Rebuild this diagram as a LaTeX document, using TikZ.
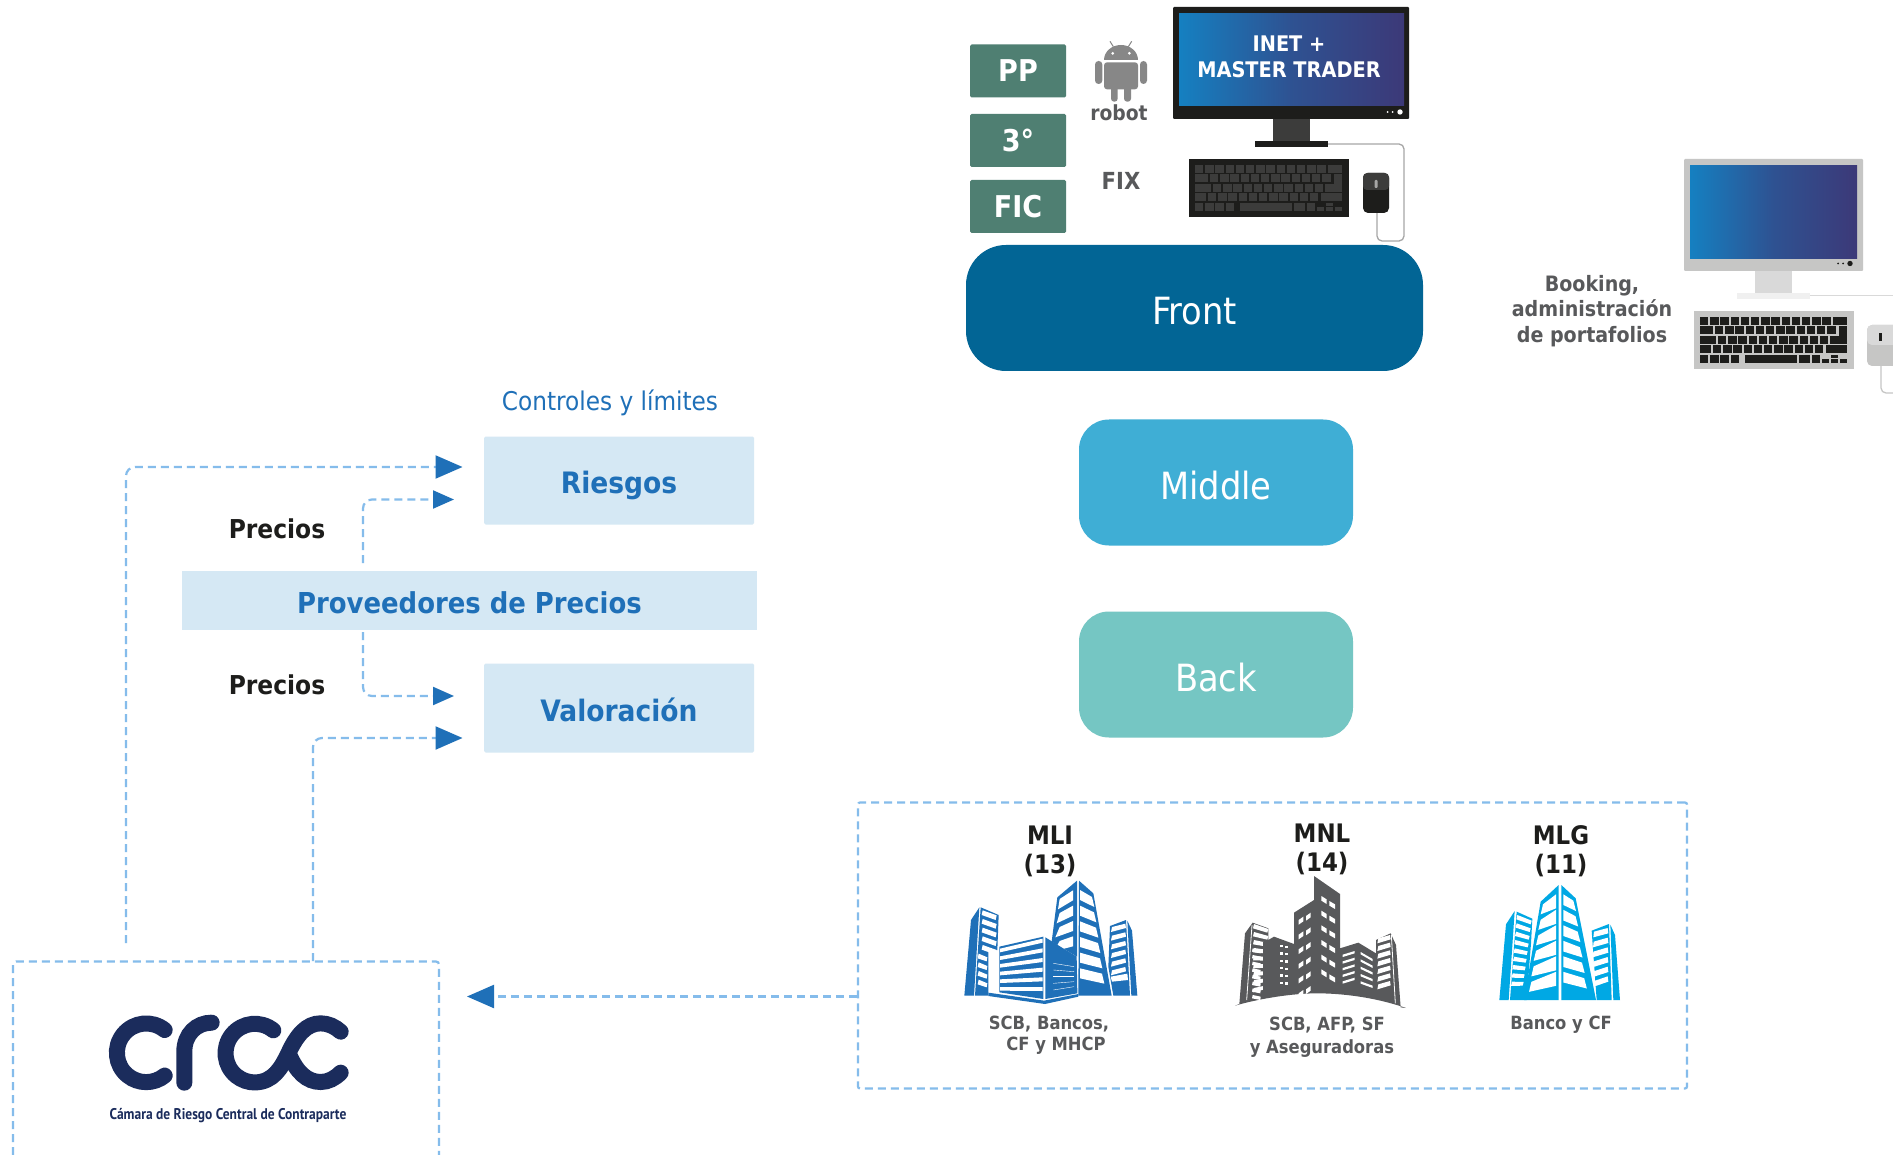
\documentclass[tikz,border=0pt]{standalone}
\usepackage{fontspec}
\setmainfont{DejaVu Sans Condensed}
\newfontfamily\logofont[FakeStretch=0.87]{PT Sans}
\usetikzlibrary{arrows.meta,calc}
\definecolor{teal1}{HTML}{4F7F72}
\definecolor{frontc}{HTML}{026595}
\definecolor{midc}{HTML}{3FAED5}
\definecolor{backc}{HTML}{75C6C3}
\definecolor{pale}{HTML}{D5E8F4}
\definecolor{blueT}{HTML}{1F70B8}
\definecolor{dashc}{HTML}{85BCEB}
\definecolor{gtext}{HTML}{58595B}
\definecolor{btext}{HTML}{1D1D1B}
\definecolor{navy}{HTML}{1B2C5C}
\definecolor{keyd}{HTML}{3C3C3B}
\definecolor{lgray}{HTML}{C6C6C5}
\definecolor{cyanb}{HTML}{00A8E4}
\definecolor{scrL}{HTML}{1580C1}
\definecolor{scrR}{HTML}{3C3978}
\definecolor{droid}{HTML}{878787}
\tikzset{
  txt/.style={inner sep=0pt,align=center},
  tag/.style={fill=teal1,text=white,minimum width=96pt,minimum height=53pt,rounded corners=1.5pt,inner sep=0pt,font=\fontsize{30}{32}\selectfont\bfseries},
  tier/.style={text=white,inner sep=0pt,font=\fontsize{37.5}{40}\selectfont,text height=34pt,text depth=0pt},
  palebox/.style={fill=pale,text=blueT,inner sep=0pt,font=\fontsize{29.5}{34}\selectfont\bfseries,text height=26pt,text depth=0pt},
  dashl/.style={draw=dashc,line width=2.2pt,dash pattern=on 8pt off 5pt},
  conn/.style={dashl,rounded corners=9pt},
  bigtip/.style={-{Triangle[length=27pt,width=23pt,color=blueT]}},
  smalltip/.style={-{Triangle[length=21pt,width=18pt,color=blueT]}},
  gray label/.style={txt,text=gtext,font=\fontsize{18.2}{23}\selectfont\bfseries},
  mkt label/.style={txt,text=btext,font=\fontsize{25.5}{29}\selectfont\bfseries},
  price label/.style={txt,text=btext,font=\fontsize{26}{30}\selectfont\bfseries},
  logostroke/.style={draw=navy,line width=16pt,line cap=round}
}
% keyboard: top-left x,y ; body colour ; key colour
\newcommand{\kbdraw}[4]{%
  \begin{scope}[shift={(#1,#2)}]
    \fill[#3] (0,0) rectangle (160,58);
    \foreach \i in {0,...,12} \fill[#4] ({6+10.2*\i},6) rectangle ++(8.4,8);
    \fill[#4] (138.6,6) rectangle (153,14);
    \fill[#4] (6,15.5) rectangle (19,23.5);
    \foreach \i in {0,...,11} \fill[#4] ({21+10.2*\i},15.5) rectangle ++(8.4,8);
    \fill[#4] (6,25) rectangle (22,33);
    \foreach \i in {0,...,11} \fill[#4] ({24+10.2*\i},25) rectangle ++(8.4,8);
    \fill[#4] (145,15.5) rectangle (153,33);
    \fill[#4] (6,34.5) rectangle (17,42.5);
    \foreach \i in {0,...,10} \fill[#4] ({19+10.2*\i},34.5) rectangle ++(8.4,8);
    \fill[#4] (132,34.5) rectangle (153,42.5);
    \foreach \i in {0,...,3} \fill[#4] ({6+10.2*\i},44) rectangle ++(8.4,8.5);
    \fill[#4] (51,44) rectangle (103,52.5);
    \fill[#4] (105,44) rectangle (116,52.5);
    \fill[#4] (118,44) rectangle (126,52.5);
    \fill[#4] (128,48) rectangle (135,52.5);
    \fill[#4] (137,44) rectangle (144,47);
    \fill[#4] (137,48.5) rectangle (144,52.5);
    \fill[#4] (146,48) rectangle (153,52.5);
  \end{scope}}
\begin{document}
\begin{tikzpicture}[x=1pt,y=-1pt]
\clip (0,0) rectangle (1893,1155);
\fill[white] (0,0) rectangle (1893,1155);

% --- workstation 1
\fill[btext,rounded corners=1pt] (1173,7) rectangle (1409,119);
\shade[left color=scrL,right color=scrR,middle color=scrL!35!scrR] (1179,14) rectangle (1404,106);
\fill[white] (1400,112) circle (2.7);
\fill[white] (1392.5,112) circle (1);
\fill[white] (1387.5,112) circle (1);
\fill[keyd] (1273,119) rectangle (1310,141);
\fill[btext] (1255,141) rectangle (1328,147);
\draw[gray!70,line width=1.3pt,rounded corners=5pt] (1328,144) -- (1404,144) -- (1404,241) -- (1377,241) -- (1377,213);
\kbdraw{1189}{159}{btext}{keyd}
\fill[btext,rounded corners=5pt] (1363,173) rectangle (1389,213);
\fill[keyd,rounded corners=4pt] (1363,173) rectangle (1389,190);
\fill[gray!70,rounded corners=1pt] (1374.5,180) rectangle (1377.5,188);
\node[txt,text=white,font=\fontsize{21.5}{25.5}\selectfont\bfseries] (inet) at (1289,57) {INET +\\MASTER TRADER};

% --- android
\begin{scope}[shift={(950,0)},scale=1/3]
  \fill[droid] (462,180) arc[start angle=180,end angle=360,x radius=51,y radius=45] -- cycle;
  \fill[droid,rounded corners=3pt] (462,187) rectangle (564,268);
  \fill[droid,rounded corners=3.5pt] (435,183) rectangle (457,252);
  \fill[droid,rounded corners=3.5pt] (570,183) rectangle (591,252);
  \fill[droid,rounded corners=3pt] (483,255) rectangle (503,305);
  \fill[droid,rounded corners=3pt] (522,255) rectangle (543,305);
  \draw[droid,line width=1pt] (490,140) -- (480,124);
  \draw[droid,line width=1pt] (535,140) -- (545,124);
  \fill[white] (488,160) circle (4.5);
  \fill[white] (538,160) circle (4.5);
\end{scope}
\node[txt,text=gtext,font=\fontsize{20.8}{25}\selectfont\bfseries] (robot) at (1119,113) {robot};
\node[txt,text=gtext,font=\fontsize{23.5}{26}\selectfont\bfseries] (fix) at (1121,180.5) {FIX};

\node[tag] (pp) at (1018,71) {PP};
\node[tag] (third) at (1018,140.5) {3°};
\node[tag] (fic) at (1018,206.5) {FIC};

% --- tiers
\node[tier,fill=frontc,minimum width=457pt,minimum height=126pt,rounded corners=40pt] (front) at (1194.5,308) {Front};
\node[tier,fill=midc,minimum width=274pt,minimum height=126pt,rounded corners=30pt] (middle) at (1216,482.5) {Middle};
\node[tier,fill=backc,minimum width=274pt,minimum height=126pt,rounded corners=30pt] (back) at (1216,674.5) {Back};

% --- workstation 2
\fill[lgray,rounded corners=1pt] (1684,159) rectangle (1863,271);
\shade[left color=scrL,right color=scrR,middle color=scrL!35!scrR] (1690,166) rectangle (1857,259);
\fill[btext] (1850,263.5) circle (2.7);
\fill[btext] (1843,263.5) circle (1);
\fill[btext] (1838,263.5) circle (1);
\fill[gray!30] (1755,271) rectangle (1792,293);
\fill[gray!12] (1737,293) rectangle (1810,299);
\draw[gray!30,line width=1.3pt] (1810,295.5) -- (1893,295.5);
\kbdraw{1694}{311}{lgray}{btext}
\draw[lgray,line width=1.3pt,rounded corners=5pt] (1881,366) -- (1881,393) -- (1893,393);
\fill[lgray,rounded corners=5pt] (1867,325) rectangle (1899,366);
\fill[gray!30,rounded corners=5pt] (1867,325) rectangle (1899,345);
\fill[btext] (1879,333) rectangle (1881.5,341);
\node[txt,text=gtext,font=\fontsize{21.2}{25.5}\selectfont\bfseries] (booking) at (1592,311) {Booking,\\administración\\de portafolios};

% --- left blocks
\node[txt,text=blueT,font=\fontsize{25.8}{30}\selectfont] (controles) at (610,402.5) {Controles y límites};
\node[palebox,minimum width=270pt,minimum height=88pt,rounded corners=1.5pt] (riesgos) at (619,480.5) {Riesgos};
\node[palebox,minimum width=575pt,minimum height=59pt,font=\fontsize{28.8}{34}\selectfont\bfseries] (prov) at (469.5,600) {Proveedores de Precios};
\node[palebox,minimum width=270pt,minimum height=89pt,rounded corners=1.5pt] (valor) at (619,708) {Valoración};
\node[price label] (pr1) at (277,529) {Precios};
\node[price label] (pr2) at (277,685) {Precios};

% --- CRCC box
\coordinate (crccNW) at (13,961.5);
\coordinate (crccNE) at (439,961.5);
\coordinate (crccSW) at (13,1155);
\coordinate (crccSE) at (439,1155);
\draw[dashl,rounded corners=3pt] (crccSW) -- (crccNW) -- (crccNE) -- (crccSE);

% --- logo
\begin{scope}[shift={(0,940)},scale=1/3]
  \draw[logostroke] (494,270) arc[start angle=309,end angle=51,radius=88];
  \draw[logostroke] (553,428) -- (553,335) .. controls (553,282) and (590,248) .. (635,248);
  \draw[logostroke] (820,271) arc[start angle=309,end angle=90,radius=88]
     .. controls (820,426) and (843,385) .. (865,340) .. controls (890,285) and (920,250) .. (962,250)
     .. controls (985,250) and (1005,260) .. (1022,275);
  \draw[logostroke] (1022,398) .. controls (1005,415) and (985,426) .. (962,426) .. controls (920,426) and (890,395) .. (868,345);
\end{scope}
\node[txt,text=navy,font=\logofont\fontsize{15.5}{18}\selectfont\bfseries] (logotxt) at (228,1115.5) {Cámara de Riesgo Central de Contraparte};

% --- market box
\node[dashl,rounded corners=2pt,minimum width=829pt,minimum height=286pt,inner sep=0pt] (market) at (1272.5,945.5) {};

% --- connectors
\coordinate (a1s) at (126,943);
\coordinate (a1e) at (462.5,467);
\coordinate (a2s) at (363,563);
\coordinate (a2e) at (454,499.5);
\coordinate (a3s) at (363,632);
\coordinate (a3e) at (454,696);
\coordinate (a4s) at (313,961);
\coordinate (a4e) at (462.5,738);
\coordinate (a5e) at (467,996.5);
\draw[conn,bigtip] (a1s) |- (a1e);
\draw[conn,smalltip] (a2s) |- (a2e);
\draw[conn,smalltip] (a3s) |- (a3e);
\draw[conn,bigtip] (a4s) |- (a4e);
\draw[dashl,bigtip] (market.west |- a5e) -- (a5e);

% --- building MLI
\begin{scope}[shift={(940,800)},scale=1/3]
  \fill[blueT] (93,360) -- (118,322) -- (102,587) -- (73,587) -- cycle;
  \fill[blueT] (122,322) -- (176,345) -- (172,450) -- (145,455) -- (145,587) -- (105,587) -- cycle;
  \foreach \i in {0,...,4} \fill[white] (128,{331+26*\i}) -- (170,{346+26*\i}) -- (167,{360+26*\i}) -- (125,{345+26*\i}) -- cycle;
  \foreach \i in {5,...,8} \fill[white] (116,{331+26*\i}) -- (142,{342+26*\i}) -- (140,{354+26*\i}) -- (113,{345+26*\i}) -- cycle;
  % right tower
  \fill[blueT] (510,378) -- (558,360) -- (570,587) -- (520,587) -- (505,500) -- cycle;
  \fill[blueT] (562,362) -- (576,392) -- (592,587) -- (574,587) -- cycle;
  \foreach \i in {0,...,5} \fill[white] (516,{381+26*\i}) -- (556,{371+26*\i}) -- (558,{384+26*\i}) -- (513,{396+26*\i}) -- cycle;
  \fill[white] (512,{530}) -- (562,521) -- (564,540) -- (516,545) -- cycle;
  % centre tower
  \fill[blueT] (411,242) -- (352,292) -- (335,425) -- (411,470) -- cycle;
  \fill[blueT] (417,242) -- (460,280) -- (515,587) -- (415,587) -- cycle;
  \foreach \i in {0,...,3} \fill[white] (399,{271+46*\i}) -- (359,{297+46*\i-4*\i}) -- ({354-4*\i},{328+46*\i-4*\i}) -- (399,{301+46*\i}) -- cycle;
  \foreach \i in {0,...,5} \fill[white] (420,{270+47*\i}) -- ({456+6*\i},{291+46*\i}) -- ({463+6*\i},{321+46*\i}) -- (420,{300+47*\i}) -- cycle;
  % low block
  \fill[blueT] (178,440) -- (310,410) -- (310,597) -- (178,577) -- cycle;
  \foreach \i in {0,...,5} \fill[white] (180,{446+23*\i}) -- (308,{416+29*\i}) -- (308,{428+29*\i}) -- (180,{457+23*\i}) -- cycle;
  \fill[blueT] (316,412) -- (410,470) -- (412,580) -- (316,597) -- cycle;
  \foreach \i in {0,...,4} \draw[white,line width=.4pt] (340,{490+20*\i}) -- (402,{500+15*\i});
  \fill[blueT] (145,578) -- (312,602) -- (415,582) -- (415,590) -- (315,612) -- (145,588) -- cycle;
\end{scope}

% --- building MNL
\begin{scope}[shift={(940,800)},scale=1/3]
  \fill[gtext] (938,368) -- (985,385) -- (985,420) -- (1002,410) -- (1062,432) -- (1062,338) -- (1122,300) -- (1122,228) -- (1200,282) -- (1200,445) -- (1255,428) -- (1308,460) -- (1308,420) -- (1352,400) -- (1368,435) -- (1382,622) -- (1398,624)
     .. controls (1300,590) and (1200,580) .. (1130,580) .. controls (1060,580) and (960,595) .. (885,617) -- (898,612) -- (915,400) -- cycle;
  \foreach \i in {0,...,5} {
    \fill[white] (1076,{360+44*\i}) -- (1090,{350+44*\i}) -- (1090,{364+44*\i}) -- (1076,{374+44*\i}) -- cycle;
    \fill[white] (1098,{348+44*\i}) -- (1112,{338+44*\i}) -- (1112,{352+44*\i}) -- (1098,{362+44*\i}) -- cycle;
    \fill[white] (1144,{288+44*\i}) -- (1160,{298+44*\i}) -- (1160,{312+44*\i}) -- (1144,{302+44*\i}) -- cycle;
    \fill[white] (1168,{303+44*\i}) -- (1185,{313+44*\i}) -- (1185,{327+44*\i}) -- (1168,{317+44*\i}) -- cycle;
  }
  \foreach \i in {0,...,5} {
    \fill[white] (1020,{435+22*\i}) rectangle ++(10,7);
    \fill[white] (1034,{437+22*\i}) rectangle ++(10,7);
  }
  \foreach \i in {0,...,4} {
    \fill[white] (1208,{464+20*\i}) -- (1244,{453+20*\i}) -- (1244,{460+20*\i}) -- (1208,{471+20*\i}) -- cycle;
    \fill[white] (1262,{456+22*\i}) -- (1298,{477+20*\i}) -- (1298,{484+20*\i}) -- (1262,{463+22*\i}) -- cycle;
  }
  \foreach \i in {0,...,8} \fill[white] (942,{372+24*\i}) -- (985,{387+21*\i}) -- (982,{398+21*\i}) -- (939,{385+24*\i}) -- cycle;
  \fill[gtext] (970,425) rectangle (1010,585);
  \foreach \i in {0,...,7} \fill[white] (938,{445+20*\i}) -- (962,{450+20*\i}) -- (961,{460+20*\i}) -- (936,{455+20*\i}) -- cycle;
  \foreach \i in {0,...,6} \fill[white] (1315,{415+23*\i}) -- (1350,{405+23*\i}) -- (1352,{418+23*\i}) -- (1312,{430+23*\i}) -- cycle;
  \draw[white,line width=.8pt] (936,375) -- (920,600);
  \draw[white,line width=.8pt] (1354,405) -- (1366,610);
\end{scope}

% --- building MLG
\begin{scope}[shift={(1400,800)},scale=1/3]
  \fill[cyanb] (344,333) -- (318,373) -- (298,600) -- (326,600) -- cycle;
  \fill[cyanb] (350,335) -- (397,356) -- (393,430) -- (380,600) -- (330,600) -- cycle;
  \foreach \i in {0,...,8} \fill[white] ({352-2*\i},{345+25*\i}) -- ({395-3*\i},{362+23*\i}) -- ({392-3*\i},{373+23*\i}) -- ({349-2*\i},{358+25*\i}) -- cycle;
  \fill[cyanb] (575,392) -- (627,372) -- (635,600) -- (590,600) -- cycle;
  \fill[cyanb] (631,374) -- (645,405) -- (660,600) -- (640,600) -- cycle;
  \foreach \i in {0,...,5} \fill[white] ({582-\i},{395+30*\i}) -- (623,{384+29*\i}) -- (625,{400+29*\i}) -- ({580-\i},{412+30*\i}) -- cycle;
  \fill[cyanb] (476,255) -- (422,305) -- (372,600) -- (476,600) -- cycle;
  \fill[cyanb] (484,255) -- (527,295) -- (588,600) -- (484,600) -- cycle;
  \foreach \i in {0,...,5} \fill[white] (468,{283+46.5*\i}) -- ({429-7*\i},{313+46.5*\i}) -- ({422-7*\i},{343+46.5*\i}) -- (468,{325+46.5*\i}) -- cycle;
  \foreach \i in {0,...,5} \fill[white] (490,{283+46.5*\i}) -- ({520+6.5*\i},{302+46.5*\i}) -- ({528+6.5*\i},{333+46.5*\i}) -- (490,{315+46.5*\i}) -- cycle;
\end{scope}

% --- market labels
\node[mkt label] (mli) at (1050,851) {MLI\\(13)};
\node[mkt label] (mnl) at (1322,849) {MNL\\(14)};
\node[mkt label] (mlg) at (1561,851) {MLG\\(11)};
\node[gray label] (scb1) at (1049,1024) {SCB, Bancos,};
\node[gray label] (scb2) at (1056,1046) {CF y MHCP};
\node[gray label] (scb3) at (1327,1025) {SCB, AFP, SF};
\node[gray label] (scb4) at (1322,1049) {y Aseguradoras};
\node[gray label] (scb5) at (1561,1025) {Banco y CF};
\end{tikzpicture}
\end{document}
